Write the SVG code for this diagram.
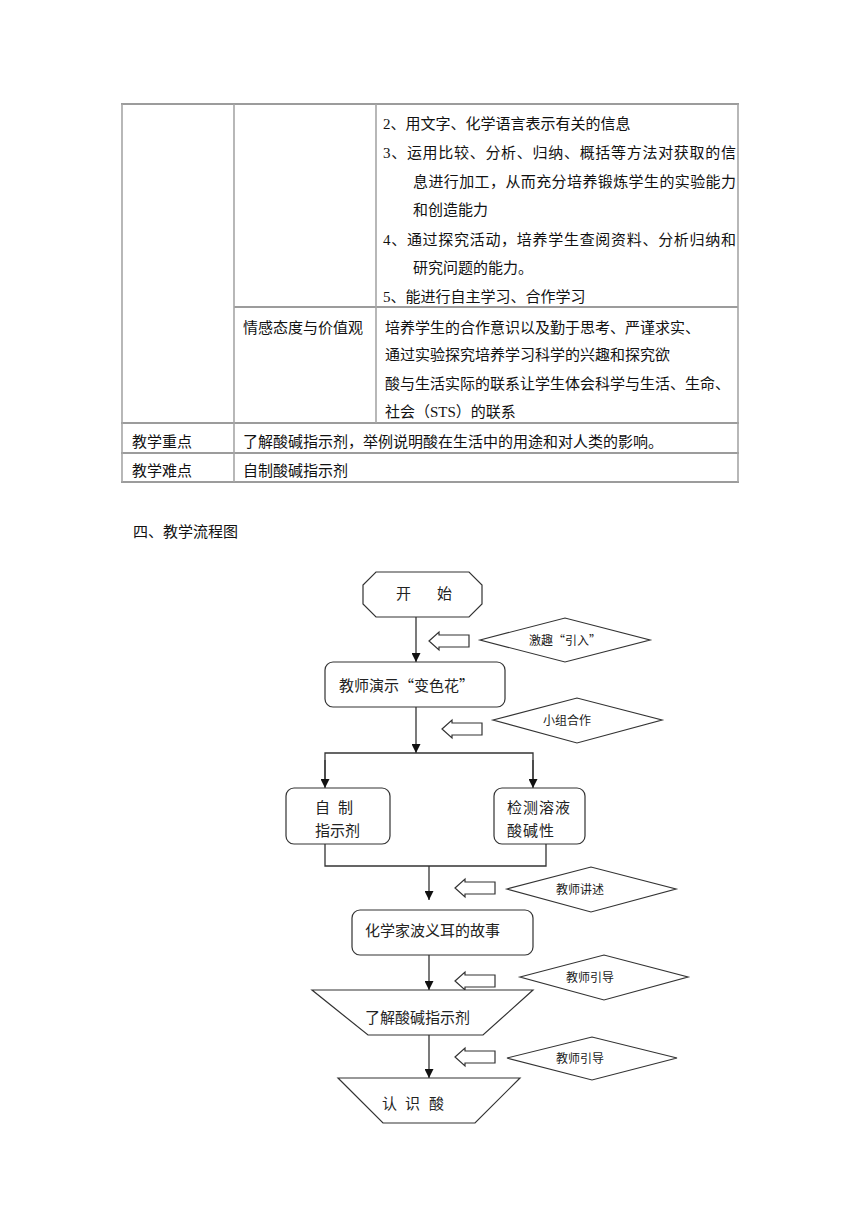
<svg xmlns="http://www.w3.org/2000/svg" width="860" height="1216" viewBox="0 0 860 1216">
<style>
.bg{fill:#fff}
.vl{stroke:#a6a6a6;stroke-width:1.6;fill:none}
.hl{stroke:#3a3a3a;stroke-width:1.2;fill:none}
.t{font-family:"Liberation Serif","Noto Sans CJK SC",serif;font-size:15px;fill:#111}
.f{font-family:"Noto Sans CJK SC",sans-serif;font-size:15px;fill:#222}
.d{font-family:"Noto Sans CJK SC",sans-serif;font-size:12px;fill:#222;text-anchor:middle}
.sh{fill:#fff;stroke:#333;stroke-width:1.2}
.ln{fill:none;stroke:#333;stroke-width:1.3}
</style>
<defs>
<marker id="ah" markerUnits="userSpaceOnUse" markerWidth="9" markerHeight="9" refX="9" refY="4.5" orient="auto">
<path d="M0,0 L9,4.5 L0,9 Z" fill="#111"/>
</marker>
</defs>
<rect class="bg" x="0" y="0" width="860" height="1216"/>

<g id="table">
<line class="hl" x1="121" y1="104" x2="739" y2="104"/>
<line class="hl" x1="234" y1="307" x2="738" y2="307"/>
<line class="hl" x1="121" y1="423" x2="739" y2="423"/>
<line class="hl" x1="121" y1="453" x2="739" y2="453"/>
<line class="hl" x1="121" y1="482" x2="739" y2="482"/>
<line class="vl" x1="122" y1="104" x2="122" y2="482"/>
<line class="vl" x1="234" y1="104" x2="234" y2="482"/>
<line class="vl" x1="376" y1="104" x2="376" y2="423"/>
<line class="vl" x1="738" y1="104" x2="738" y2="482"/>

<text class="t" x="383" y="129">2、用文字、化学语言表示有关的信息</text>
<text class="t" x="383" y="158" textLength="353" lengthAdjust="spacing">3、运用比较、分析、归纳、概括等方法对获取的信</text>
<text class="t" x="413" y="187" textLength="323" lengthAdjust="spacing">息进行加工，从而充分培养锻炼学生的实验能力</text>
<text class="t" x="413" y="215">和创造能力</text>
<text class="t" x="383" y="245" textLength="353" lengthAdjust="spacing">4、通过探究活动，培养学生查阅资料、分析归纳和</text>
<text class="t" x="413" y="273">研究问题的能力。</text>
<text class="t" x="383" y="302">5、能进行自主学习、合作学习</text>

<text class="t" x="243" y="333">情感态度与价值观</text>
<text class="t" x="385" y="333">培养学生的合作意识以及勤于思考、严谨求实、</text>
<text class="t" x="385" y="360">通过实验探究培养学习科学的兴趣和探究欲</text>
<text class="t" x="385" y="389">酸与生活实际的联系让学生体会科学与生活、生命、</text>
<text class="t" x="385" y="417">社会（STS）的联系</text>

<text class="t" x="132" y="447">教学重点</text>
<text class="t" x="243" y="447">了解酸碱指示剂，举例说明酸在生活中的用途和对人类的影响。</text>
<text class="t" x="132" y="476">教学难点</text>
<text class="t" x="243" y="476">自制酸碱指示剂</text>
</g>

<text class="t" x="133" y="537">四、教学流程图</text>

<g id="connectors">
<line class="ln" x1="416" y1="617" x2="416" y2="662" marker-end="url(#ah)"/>
<line class="ln" x1="416" y1="707" x2="416" y2="753" marker-end="url(#ah)"/>
<polyline class="ln" points="325,781 325,753 533,753 533,781"/>
<line class="ln" x1="325" y1="760" x2="325" y2="788" marker-end="url(#ah)"/>
<line class="ln" x1="533" y1="760" x2="533" y2="788" marker-end="url(#ah)"/>
<polyline class="ln" points="325,844 325,866 546,866 546,844"/>
<line class="ln" x1="429" y1="866" x2="429" y2="900" marker-end="url(#ah)"/>
<line class="ln" x1="429" y1="955" x2="429" y2="990" marker-end="url(#ah)"/>
<line class="ln" x1="429" y1="1035" x2="429" y2="1078" marker-end="url(#ah)"/>
</g>

<g id="hint-arrows">
<path class="sh" d="M429,641 L439,632 L439,635 L469,635 L469,647 L439,647 L439,650 Z"/>
<path class="sh" d="M442,729 L452,720 L452,723 L482,723 L482,735 L452,735 L452,738 Z"/>
<path class="sh" d="M455,888 L465,879 L465,882 L495,882 L495,894 L465,894 L465,897 Z"/>
<path class="sh" d="M455,981 L465,972 L465,975 L495,975 L495,987 L465,987 L465,990 Z"/>
<path class="sh" d="M455,1057 L465,1048 L465,1051 L495,1051 L495,1063 L465,1063 L465,1066 Z"/>
</g>

<g id="start">
<path class="sh" d="M376,572 L469,572 L482,585 L482,604 L469,617 L376,617 L363,604 L363,585 Z"/>
<text class="f" x="396" y="599">开</text><text class="f" x="437" y="599">始</text>
</g>

<g id="hint1">
<path class="sh" d="M480,640 L565,618 L650,640 L565,662 Z"/>
<text class="d" x="565" y="644.5">激趣“引入”</text>
</g>

<g id="demo">
<rect class="sh" x="325" y="662" width="180" height="45" rx="8"/>
<text class="f" x="339" y="690.5">教师演示“变色花”</text>
</g>

<g id="hint2">
<path class="sh" d="M493,720 L577,698 L662,720 L577,743 Z"/>
<text class="d" x="567" y="724.5">小组合作</text>
</g>

<g id="make">
<rect class="sh" x="286" y="788" width="104" height="56" rx="8"/>
<text class="f" x="315" y="812.5">自</text><text class="f" x="338" y="812.5">制</text>
<text class="f" x="315" y="835.5">指示剂</text>
</g>

<g id="test">
<rect class="sh" x="494" y="788" width="91" height="56" rx="8"/>
<text class="f" x="507" y="812.5" letter-spacing="1">检测溶液</text>
<text class="f" x="507" y="835.5" letter-spacing="1">酸碱性</text>
</g>

<g id="hint3">
<path class="sh" d="M507,889 L591,867 L676,889 L591,912 Z"/>
<text class="d" x="580" y="893.5">教师讲述</text>
</g>

<g id="story">
<rect class="sh" x="352" y="910" width="181" height="45" rx="8"/>
<text class="f" x="365" y="935.5">化学家波义耳的故事</text>
</g>

<g id="hint4">
<path class="sh" d="M520,977 L604,955 L688,977 L604,1000 Z"/>
<text class="d" x="590" y="981.5">教师引导</text>
</g>

<g id="indicator">
<path class="sh" d="M312,990 L533,990 L483,1035 L368,1035 Z"/>
<text class="f" x="365" y="1022.5">了解酸碱指示剂</text>
</g>

<g id="hint5">
<path class="sh" d="M507,1058 L592,1037 L677,1058 L592,1080 Z"/>
<text class="d" x="580" y="1062.5">教师引导</text>
</g>

<g id="acid">
<path class="sh" d="M338,1078 L520,1078 L475,1123 L383,1123 Z"/>
<text class="f" x="382" y="1108.5">认</text><text class="f" x="405" y="1108.5">识</text><text class="f" x="429" y="1108.5">酸</text>
</g>
</svg>
